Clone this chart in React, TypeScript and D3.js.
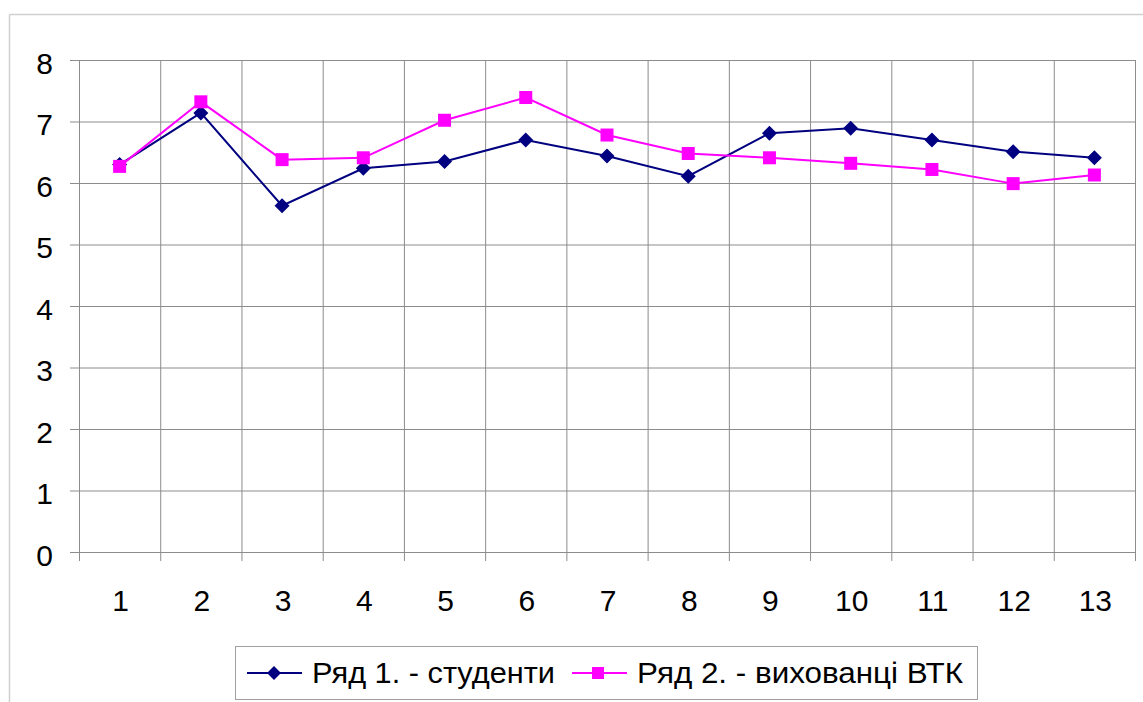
import React from "react";
import * as d3 from "d3";

const categories = ["1", "2", "3", "4", "5", "6", "7", "8", "9", "10", "11", "12", "13"];
const series1 = [6.3, 7.14, 5.63, 6.24, 6.35, 6.7, 6.44, 6.11, 6.81, 6.89, 6.7, 6.51, 6.41];
const series2 = [6.27, 7.32, 6.38, 6.41, 7.02, 7.39, 6.78, 6.48, 6.41, 6.32, 6.22, 5.99, 6.13];
const yTicks = [0, 1, 2, 3, 4, 5, 6, 7, 8];
const seriesNames = ["Ряд 1. - студенти", "Ряд 2. - вихованці ВТК"];

const W = 1143;
const H = 702;
const left = 79;
const right = 1135;
const top = 60;
const bottom = 552;

export default function App() {
  const x = d3.scaleBand<string>().domain(categories).range([left, right]).paddingInner(0).paddingOuter(0);
  const y = d3.scaleLinear().domain([0, 8]).range([bottom, top]);
  const cx = (c: string) => (x(c) as number) + x.bandwidth() / 2;
  const line = d3
    .line<number>()
    .x((_, i) => cx(categories[i]))
    .y((d) => y(d));
  const boundaries = categories.map((c) => x(c) as number).concat([right]);
  const font = "Arial, 'Liberation Sans', sans-serif";
  const diamond = (px: number, py: number, r: number) =>
    `M${px},${py - r}L${px + r},${py}L${px},${py + r}L${px - r},${py}Z`;

  return (
    <svg
      width={W}
      height={H}
      style={{ position: "absolute", left: 0, top: 0, background: "#fff" }}
      fontFamily={font}
    >
      <rect x={0} y={0} width={W} height={H} fill="#fff" />
      {/* outer chart border */}
      <line x1={9.5} y1={14.5} x2={W} y2={14.5} stroke="#d0d0d0" strokeWidth={1.5} />
      <line x1={9.5} y1={14.5} x2={9.5} y2={H} stroke="#d0d0d0" strokeWidth={1.5} />

      {/* horizontal gridlines + y ticks */}
      {yTicks.map((t) => (
        <g key={"y" + t}>
          <line x1={70} x2={right} y1={y(t) + 0.5} y2={y(t) + 0.5} stroke="#8c8c8c" strokeWidth={1} />
          <text x={53} y={y(t) + 3} fontSize={30} textAnchor="end" dominantBaseline="central" fill="#000">
            {t}
          </text>
        </g>
      ))}
      {/* vertical gridlines + x ticks */}
      {boundaries.map((b, i) => (
        <line key={"x" + i} x1={b + 0.5} x2={b + 0.5} y1={top} y2={561} stroke="#8c8c8c" strokeWidth={1} />
      ))}
      {categories.map((c) => (
        <text key={"xl" + c} x={cx(c) + 1} y={600} fontSize={30} textAnchor="middle" dominantBaseline="central" fill="#000">
          {c}
        </text>
      ))}

      {/* series 1 */}
      <path d={line(series1) || ""} fill="none" stroke="#000080" strokeWidth={2} />
      {series1.map((v, i) => (
        <path key={"d" + i} d={diamond(cx(categories[i]), y(v), 7.5)} fill="#000080" />
      ))}
      {/* series 2 */}
      <path d={line(series2) || ""} fill="none" stroke="#ff00ff" strokeWidth={2} />
      {series2.map((v, i) => (
        <rect key={"s" + i} x={cx(categories[i]) - 6.5} y={y(v) - 6.5} width={13} height={13} fill="#ff00ff" />
      ))}

      {/* legend */}
      <rect x={235.5} y={646.5} width={742} height={53} fill="#fff" stroke="#a0a0a0" strokeWidth={1} />
      <line x1={247} x2={302} y1={673} y2={673} stroke="#000080" strokeWidth={2} />
      <path d={diamond(274, 673, 7)} fill="#000080" />
      <text x={312} y={683} fontSize={30} fill="#000" textLength={243} lengthAdjust="spacingAndGlyphs">
        {seriesNames[0]}
      </text>
      <line x1={572} x2={627} y1={673} y2={673} stroke="#ff00ff" strokeWidth={2} />
      <rect x={592} y={667} width={12} height={12} fill="#ff00ff" />
      <text x={637} y={683} fontSize={30} fill="#000" textLength={326} lengthAdjust="spacingAndGlyphs">
        {seriesNames[1]}
      </text>
    </svg>
  );
}
